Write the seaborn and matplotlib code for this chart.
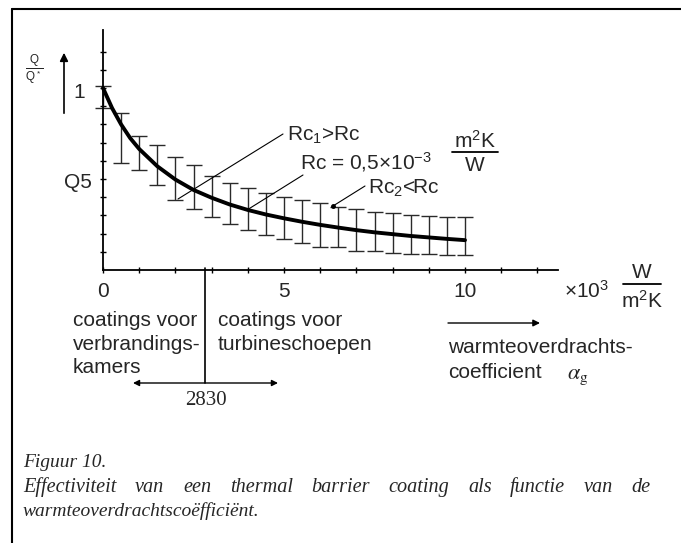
import matplotlib
matplotlib.use('Agg')
import matplotlib.pyplot as plt
import seaborn as sns
import pandas as pd
from matplotlib.lines import Line2D

# ---------------- data ----------------
alpha_curve = [0, 0.25, 0.5, 0.75, 1, 1.5, 2, 2.5, 3, 3.5, 4, 4.5, 5, 5.5, 6,
               6.5, 7, 7.5, 8, 8.5, 9, 9.5, 10]
q_curve = [1.0, 0.89, 0.80, 0.725, 0.665, 0.57, 0.497, 0.44, 0.397, 0.36, 0.33,
           0.305, 0.284, 0.265, 0.248, 0.233, 0.219, 0.207, 0.197, 0.187,
           0.179, 0.171, 0.164]

alpha_bars = [0, 0.5, 1, 1.5, 2, 2.5, 3, 3.5, 4, 4.5, 5, 5.5, 6, 6.5, 7, 7.5,
              8, 8.5, 9, 9.5, 10]
q_upper = [1.01, 0.86, 0.736, 0.687, 0.62, 0.577, 0.517, 0.48, 0.45, 0.423,
           0.40, 0.383, 0.368, 0.345, 0.335, 0.32, 0.313, 0.30, 0.297, 0.29, 0.29]
q_lower = [0.89, 0.59, 0.55, 0.467, 0.385, 0.335, 0.29, 0.255, 0.218, 0.19,
           0.172, 0.15, 0.128, 0.125, 0.105, 0.105, 0.095, 0.09, 0.09, 0.082, 0.082]

x_ticks = list(range(13))
x_tick_labels = ['0', '', '', '', '', '5', '', '', '', '', '10', '', '']
y_ticks = [0.1, 0.2, 0.3, 0.4, 0.5, 0.6, 0.7, 0.8, 0.9, 1.0, 1.1, 1.2]
split_value = 2.83  # 2830 W/m2K

# ---------------- style ----------------
sns.set_theme(style='white')
plt.rcParams['font.family'] = ['Liberation Sans', 'DejaVu Sans']
plt.rcParams['mathtext.fontset'] = 'custom'
plt.rcParams['mathtext.rm'] = 'Liberation Sans'
plt.rcParams['mathtext.it'] = 'Liberation Sans'
plt.rcParams['mathtext.bf'] = 'Liberation Sans:bold'

FS = 15
W, H = 681, 543
fig = plt.figure(figsize=(W / 100, H / 100), dpi=100)
fig.patch.set_facecolor('white')


def fx(px):
    return px / W


def fy(py):
    return 1 - py / H


X0, Y0, SX, SY = 103, 270, 36.2, 182.0


def dx(px):
    return (px - X0) / SX


def dy(py):
    return (Y0 - py) / SY


ax = fig.add_axes([fx(X0), fy(Y0), (558 - X0) / W, (Y0 - 30) / H])
ax.set_facecolor('none')
ax.set_xlim(0, (558 - X0) / SX)
ax.set_ylim(0, (Y0 - 30) / SY)

# curve
df = pd.DataFrame({'alpha': alpha_curve, 'q': q_curve})
sns.lineplot(data=df, x='alpha', y='q', ax=ax, color='black', lw=2.8,
             clip_on=False, zorder=3)

# error bars
mid = [(u + l) / 2 for u, l in zip(q_upper, q_lower)]
err = [[m - l for m, l in zip(mid, q_lower)], [u - m for u, m in zip(q_upper, mid)]]
ax.errorbar(alpha_bars, mid, yerr=err, fmt='none', ecolor='#2a2a2a',
            elinewidth=1.0, capsize=5.5, capthick=1.0, clip_on=False, zorder=2)

# axes styling
for s in ['top', 'right']:
    ax.spines[s].set_visible(False)
for s in ['left', 'bottom']:
    ax.spines[s].set_color('black')
    ax.spines[s].set_linewidth(1.3)
ax.set_xticks(x_ticks)
ax.set_xticklabels(x_tick_labels, fontsize=FS)
ax.set_yticks(y_ticks)
ax.set_yticklabels([])
ax.tick_params(axis='both', direction='inout', length=5, width=1.0, color='black',
               bottom=True, left=True)
ax.tick_params(axis='x', pad=6)
ax.set_xlabel('')
ax.set_ylabel('')

# y annotations
ax.text(dx(92), dy(182), 'Q5', fontsize=FS, ha='right', va='center')
ax.text(dx(79), dy(92), '1', fontsize=FS, ha='center', va='center')
ax.annotate('', xy=(dx(64), dy(50)), xytext=(dx(64), dy(116)),
            arrowprops=dict(arrowstyle='-|>', lw=1.2, color='black', mutation_scale=12),
            annotation_clip=False)
ax.text(dx(34), dy(70), r'$\frac{Q}{Q^*}$', fontsize=12, ha='center', va='center')

# x unit
ax.text(dx(564), dy(291), r'$\times10^3$', fontsize=FS, ha='left', va='center')
ax.text(dx(642), dy(272), 'W', fontsize=FS, ha='center', va='center')
ax.plot([dx(623), dx(661)], [dy(284), dy(284)], color='black', lw=1.3, clip_on=False)
ax.text(dx(642), dy(301), r'm$^2$K', fontsize=FS, ha='center', va='center')

# Rc annotations
ax.text(dx(287), dy(135), r'Rc$_1$>Rc', fontsize=FS, ha='left', va='center')
ax.plot([dx(283), dx(178)], [dy(134), dy(199)], color='black', lw=0.8, clip_on=False)
ax.text(dx(300), dy(162), r'Rc = 0,5$\times$10$^{-3}$', fontsize=FS, ha='left', va='center')
ax.plot([dx(303), dx(247)], [dy(175), dy(210)], color='black', lw=0.8, clip_on=False)
ax.text(dx(475), dy(141), r'm$^2$K', fontsize=FS, ha='center', va='center')
ax.plot([dx(452), dx(498)], [dy(152), dy(152)], color='black', lw=1.3, clip_on=False)
ax.text(dx(475), dy(165), 'W', fontsize=FS, ha='center', va='center')
ax.text(dx(368), dy(188), r'Rc$_2$<Rc', fontsize=FS, ha='left', va='center')
ax.plot([dx(365), dx(333)], [dy(186), dy(206)], color='black', lw=0.8, clip_on=False)
ax.plot([dx(333)], [dy(206)], marker='o', ms=2.5, color='black', clip_on=False)

# application regions
ax.plot([split_value, split_value], [dy(268), dy(383)], color='black', lw=1.2, clip_on=False)
ax.annotate('', xy=(dx(133), dy(383)), xytext=(dx(278), dy(383)),
            arrowprops=dict(arrowstyle='<|-|>', lw=1.0, color='black', mutation_scale=9,
                            shrinkA=0, shrinkB=0),
            annotation_clip=False)
ax.text(split_value, dy(400), '2830', fontsize=FS, family='Liberation Serif',
        ha='center', va='center')

left_lines = ['coatings voor', 'verbrandings-', 'kamers']
for i, s in enumerate(left_lines):
    ax.text(dx(73), dy(326 + 23.5 * i), s, fontsize=FS, ha='left', va='baseline')
mid_lines = ['coatings voor', 'turbineschoepen']
for i, s in enumerate(mid_lines):
    ax.text(dx(218), dy(326 + 23.5 * i), s, fontsize=FS, ha='left', va='baseline')
ax.annotate('', xy=(dx(540), dy(323)), xytext=(dx(448), dy(323)),
            arrowprops=dict(arrowstyle='-|>', lw=1.0, color='black', mutation_scale=10,
                            shrinkA=0, shrinkB=0),
            annotation_clip=False)
right_lines = ['warmteoverdrachts-', 'coefficient']
for i, s in enumerate(right_lines):
    ax.text(dx(448), dy(353 + 24.5 * i), s, fontsize=FS, ha='left', va='baseline')
ax.text(dx(567), dy(376), r'$\alpha_{\rm g}$', fontsize=16, math_fontfamily='stix',
        ha='left', va='center')

# figure border (left and top)
fig.add_artist(Line2D([fx(12), fx(12)], [fy(9), fy(545)], color='black', lw=1.5))
fig.add_artist(Line2D([fx(12), fx(682)], [fy(9), fy(9)], color='black', lw=1.5))

# caption
cap_kw = dict(fontsize=14, family='Liberation Serif', style='italic', va='baseline')
CAP_L, CAP_R = 23, 651
fig.text(fx(CAP_L), fy(467), 'Figuur 10.', **cap_kw)
renderer = fig.canvas.get_renderer()
words = 'Effectiviteit van een thermal barrier coating als functie van de'.split()
texts = [fig.text(0, fy(492), w, **dict(cap_kw, fontsize=14.6)) for w in words]
widths = [t.get_window_extent(renderer).width for t in texts]
gap = (CAP_R - CAP_L - sum(widths)) / (len(words) - 1)
xp = CAP_L
for t, wdt in zip(texts, widths):
    t.set_x(fx(xp))
    xp += wdt + gap
fig.text(fx(CAP_L), fy(516), 'warmteoverdrachtscoëfficiënt.', **cap_kw)

fig.savefig('out.png', dpi=100, facecolor='white')
